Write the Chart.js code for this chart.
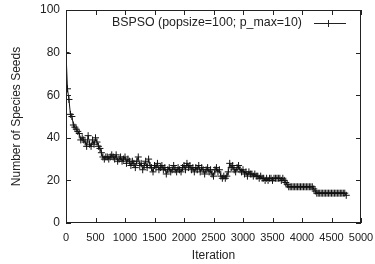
<!DOCTYPE html>
<html>
<head>
<meta charset="utf-8">
<script src="https://cdn.jsdelivr.net/npm/chart.js@4/dist/chart.umd.min.js"></script>
<style>
  html, body { margin: 0; padding: 0; background: #fff; }
  #wrap { width: 375px; height: 264px; }
</style>
</head>
<body>
<div id="wrap"><canvas id="seedChart" width="375" height="264"></canvas></div>
<script>
// iteration numbers read along the x axis
const iterations = [
  0, 25, 50, 75, 100, 125, 150, 175, 200, 225, 250, 275, 300, 325, 350, 375, 400, 425, 450, 475,
  500, 525, 550, 575, 600, 625, 650, 675, 700, 725, 750, 775, 800, 825, 850, 875, 900, 925, 950, 975,
  1000, 1025, 1050, 1075, 1100, 1125, 1150, 1175, 1200, 1225, 1250, 1275, 1300, 1325, 1350, 1375, 1400, 1425, 1450, 1475,
  1500, 1525, 1550, 1575, 1600, 1625, 1650, 1675, 1700, 1725, 1750, 1775, 1800, 1825, 1850, 1875, 1900, 1925, 1950, 1975,
  2000, 2025, 2050, 2075, 2100, 2125, 2150, 2175, 2200, 2225, 2250, 2275, 2300, 2325, 2350, 2375, 2400, 2425, 2450, 2475,
  2500, 2525, 2550, 2575, 2600, 2625, 2650, 2675, 2700, 2725, 2750, 2775, 2800, 2825, 2850, 2875, 2900, 2925, 2950, 2975,
  3000, 3025, 3050, 3075, 3100, 3125, 3150, 3175, 3200, 3225, 3250, 3275, 3300, 3325, 3350, 3375, 3400, 3425, 3450, 3475,
  3500, 3525, 3550, 3575, 3600, 3625, 3650, 3675, 3700, 3725, 3750, 3775, 3800, 3825, 3850, 3875, 3900, 3925, 3950, 3975,
  4000, 4025, 4050, 4075, 4100, 4125, 4150, 4175, 4200, 4225, 4250, 4275, 4300, 4325, 4350, 4375, 4400, 4425, 4450, 4475,
  4500, 4525, 4550, 4575, 4600, 4625, 4650, 4675, 4700, 4725, 4750
];

// number of species seeds at each iteration
const seeds = [
  80, 63, 58, 51, 50, 46, 45, 44, 43, 42, 39, 40, 39, 38, 36, 41, 37, 36, 39, 37,
  40, 38, 36, 35, 33, 31, 30, 31, 31, 30, 31, 32, 31, 30, 32, 29, 30, 31, 29, 30,
  31, 28, 30, 29, 27, 29, 28, 26, 29, 31, 27, 28, 25, 27, 29, 26, 30, 27, 26, 24,
  27, 26, 28, 25, 26, 27, 25, 26, 23, 25, 26, 24, 25, 27, 25, 24, 26, 25, 24, 26,
  27, 25, 28, 26, 27, 25, 26, 24, 26, 25, 27, 24, 26, 25, 23, 25, 26, 24, 25, 23,
  22, 25, 26, 24, 25, 22, 21, 22, 21, 22, 24, 28, 26, 27, 25, 24, 26, 27, 25, 24,
  25, 23, 24, 22, 24, 23, 23, 22, 23, 22, 22, 21, 22, 21, 21, 20, 21, 20, 21, 21,
  20, 21, 21, 21, 21, 21, 20, 21, 20, 19, 18, 17, 17, 17, 17, 17, 17, 17, 17, 17,
  17, 17, 17, 17, 17, 17, 17, 17, 16, 15, 14, 14, 14, 14, 14, 14, 14, 14, 14, 14,
  14, 14, 14, 14, 14, 14, 14, 14, 14, 14, 13
];

const seriesLabel = "BSPSO (popsize=100; p_max=10)";
const xTicks = [0, 500, 1000, 1500, 2000, 2500, 3000, 3500, 4000, 4500, 5000];
const yTicks = [0, 20, 40, 60, 80, 100];

const FONT = "'Liberation Sans', Arial, sans-serif";

// gnuplot style: ticks inside on all four sides, plus the key in the top right
const gnuplotFrame = {
  id: 'gnuplotFrame',
  afterDraw(chart) {
    const ctx = chart.ctx;
    const a = chart.chartArea;
    const xs = chart.scales.x, ys = chart.scales.y;
    ctx.save();
    ctx.strokeStyle = '#222';
    ctx.lineWidth = 1;
    ctx.strokeRect(a.left + 0.5, a.top + 0.5, a.right - a.left - 1, a.bottom - a.top - 1);
    ctx.beginPath();
    xTicks.forEach(v => {
      const px = Math.round(xs.getPixelForValue(v)) + 0.5;
      ctx.moveTo(px, a.bottom); ctx.lineTo(px, a.bottom - 5);
      ctx.moveTo(px, a.top); ctx.lineTo(px, a.top + 5);
    });
    yTicks.forEach(v => {
      const py = Math.round(ys.getPixelForValue(v)) + 0.5;
      ctx.moveTo(a.left, py); ctx.lineTo(a.left + 5, py);
      ctx.moveTo(a.right, py); ctx.lineTo(a.right - 5, py);
    });
    ctx.stroke();

    // key
    ctx.font = '12.4px ' + FONT;
    ctx.fillStyle = '#222';
    ctx.textAlign = 'right';
    ctx.textBaseline = 'middle';
    const ky = 23;
    ctx.fillText(seriesLabel, 302, ky);
    ctx.beginPath();
    ctx.moveTo(314, ky + 0.5); ctx.lineTo(346, ky + 0.5);
    ctx.moveTo(328.5, ky - 3); ctx.lineTo(328.5, ky + 4);
    ctx.moveTo(325, ky + 0.5); ctx.lineTo(332, ky + 0.5);
    ctx.stroke();
    ctx.restore();
  }
};

new Chart(document.getElementById("seedChart"), {
  type: 'line',
  data: {
    datasets: [{
      label: seriesLabel,
      data: iterations.map((it, i) => ({ x: it, y: seeds[i] })),
      borderColor: '#111',
      borderWidth: 1,
      pointStyle: 'cross',
      pointRadius: 3.5,
      pointBorderWidth: 1,
      pointBorderColor: '#111',
      pointBackgroundColor: '#111',
      tension: 0,
      fill: false
    }]
  },
  options: {
    responsive: false,
    animation: false,
    layout: { padding: { top: 10, right: 14, bottom: 1, left: 5 } },
    plugins: {
      legend: { display: false },
      tooltip: { enabled: false }
    },
    scales: {
      x: {
        type: 'linear',
        min: 0, max: 5000,
        afterBuildTicks: s => { s.ticks = xTicks.map(v => ({ value: v })); },
        afterFit: s => { s.height = 40; s.paddingLeft = 0; s.paddingRight = 0; },
        grid: { display: false, drawTicks: false },
        border: { display: false },
        ticks: { color: '#222', font: { family: FONT, size: 11 }, padding: 8, maxRotation: 0, autoSkip: false,
                 callback: v => String(v) },
        title: { display: true, text: 'Iteration', color: '#222', font: { family: FONT, size: 12 }, padding: { top: 3, bottom: 0 } }
      },
      y: {
        min: 0, max: 100,
        afterBuildTicks: s => { s.ticks = yTicks.map(v => ({ value: v })); },
        afterFit: s => { s.width = 61; s.paddingTop = 0; s.paddingBottom = 0; },
        grid: { display: false, drawTicks: false },
        border: { display: false },
        ticks: { color: '#222', font: { family: FONT, size: 12 }, padding: 6, callback: v => String(v) },
        title: { display: true, text: 'Number of Species Seeds', color: '#222', font: { family: FONT, size: 12 }, padding: { top: 4, bottom: 0 } }
      }
    }
  },
  plugins: [gnuplotFrame]
});
</script>
</body>
</html>
